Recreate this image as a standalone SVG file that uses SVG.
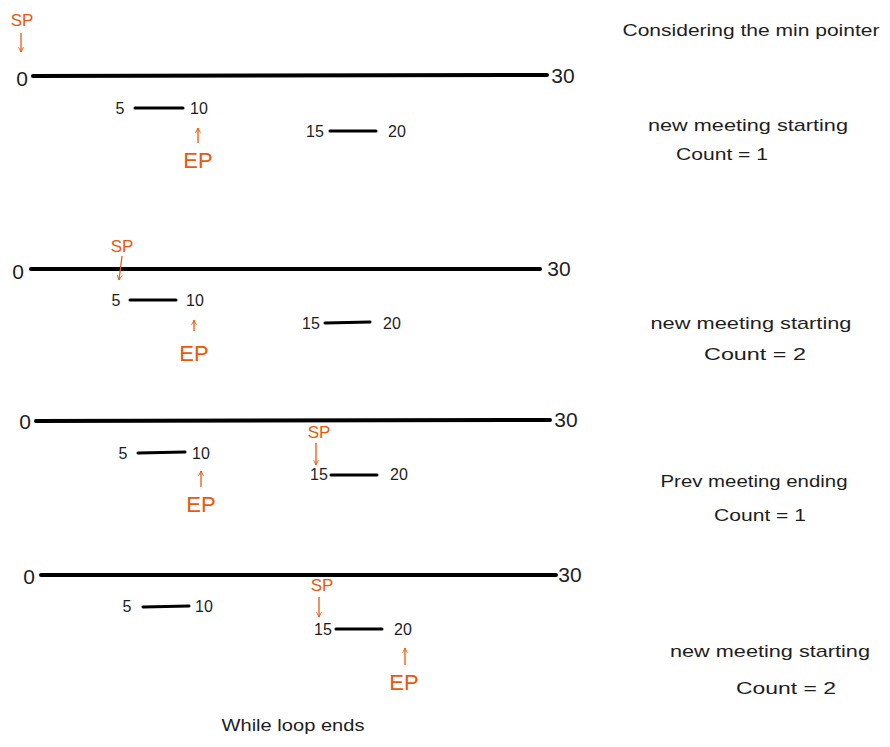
<svg xmlns="http://www.w3.org/2000/svg" width="890" height="747" viewBox="0 0 890 747">
<defs>
<style>
text{font-family:"Liberation Sans","DejaVu Sans",sans-serif;fill:#1e1e1e;dominant-baseline:central}
.n{font-size:16px}
.big{font-size:21px}
.r{fill:#e8590c;font-size:17px}
.re{fill:#e8590c;font-size:22px}
.t{font-size:17px}
.axis{stroke:#000;stroke-width:4;stroke-linecap:round}
.seg{stroke:#000;stroke-width:3;stroke-linecap:round}
.arr{stroke:#e8590c;stroke-width:1.3;fill:none;marker-end:url(#ah)}
</style>
<marker id="ah" viewBox="0 0 10 10" refX="9" refY="5" markerWidth="6" markerHeight="6" orient="auto-start-reverse" markerUnits="userSpaceOnUse">
<path d="M1,1 L9,5 L1,9" fill="none" stroke="#e8590c" stroke-width="1.5"/>
</marker>
</defs>
<rect width="890" height="747" fill="#fff"/>

<g id="panel1">
<text class="r" x="22" y="20" text-anchor="middle">SP</text>
<text class="big" x="22" y="78" text-anchor="middle">0</text>
<line class="axis" x1="33" y1="76" x2="547" y2="75"/>
<text class="big" x="563" y="75" text-anchor="middle">30</text>
<text class="n" x="120" y="108" text-anchor="middle">5</text>
<line class="seg" x1="135" y1="108" x2="183" y2="108"/>
<text class="n" x="199" y="108" text-anchor="middle">10</text>
<text class="re" x="198" y="160" text-anchor="middle">EP</text>
<text class="n" x="315" y="131" text-anchor="middle">15</text>
<line class="seg" x1="330" y1="131" x2="376" y2="131"/>
<text class="n" x="397" y="131" text-anchor="middle">20</text>
<text class="t" x="751" y="30" text-anchor="middle" textLength="257" lengthAdjust="spacingAndGlyphs">Considering the min pointer</text>
<text class="t" x="748" y="125" text-anchor="middle" textLength="200" lengthAdjust="spacingAndGlyphs">new meeting starting</text>
<text class="t" x="722" y="154" text-anchor="middle" textLength="92" lengthAdjust="spacingAndGlyphs">Count = 1</text>
</g>

<g id="panel2">
<text class="r" x="122" y="246" text-anchor="middle">SP</text>
<text class="big" x="18" y="271" text-anchor="middle">0</text>
<line class="axis" x1="31" y1="269" x2="540" y2="269"/>
<text class="big" x="559" y="268" text-anchor="middle">30</text>
<text class="n" x="116" y="300" text-anchor="middle">5</text>
<line class="seg" x1="130" y1="300" x2="176" y2="300"/>
<text class="n" x="195" y="300" text-anchor="middle">10</text>
<text class="re" x="194" y="353" text-anchor="middle">EP</text>
<text class="n" x="311" y="323" text-anchor="middle">15</text>
<line class="seg" x1="325" y1="323" x2="370" y2="322"/>
<text class="n" x="392" y="323" text-anchor="middle">20</text>
<text class="t" x="751" y="323" text-anchor="middle" textLength="201" lengthAdjust="spacingAndGlyphs">new meeting starting</text>
<text class="t" x="755" y="354" text-anchor="middle" textLength="102" lengthAdjust="spacingAndGlyphs">Count = 2</text>
</g>

<g id="panel3">
<text class="big" x="25" y="421" text-anchor="middle">0</text>
<line class="axis" x1="36" y1="421" x2="550" y2="420"/>
<text class="big" x="566" y="419" text-anchor="middle">30</text>
<text class="n" x="123" y="453" text-anchor="middle">5</text>
<line class="seg" x1="138" y1="453" x2="185" y2="452"/>
<text class="n" x="201" y="453" text-anchor="middle">10</text>
<text class="re" x="201" y="504" text-anchor="middle">EP</text>
<text class="r" x="319" y="432" text-anchor="middle">SP</text>
<text class="n" x="319" y="474" text-anchor="middle">15</text>
<line class="seg" x1="331" y1="475" x2="377" y2="475"/>
<text class="n" x="399" y="474" text-anchor="middle">20</text>
<text class="t" x="754" y="481" text-anchor="middle" textLength="187" lengthAdjust="spacingAndGlyphs">Prev meeting ending</text>
<text class="t" x="760" y="515" text-anchor="middle" textLength="92" lengthAdjust="spacingAndGlyphs">Count = 1</text>
</g>

<g id="panel4">
<text class="big" x="29" y="576" text-anchor="middle">0</text>
<line class="axis" x1="41" y1="575" x2="556" y2="575"/>
<text class="big" x="570" y="574" text-anchor="middle">30</text>
<text class="n" x="127" y="606" text-anchor="middle">5</text>
<line class="seg" x1="143" y1="607" x2="189" y2="606"/>
<text class="n" x="204" y="606" text-anchor="middle">10</text>
<text class="r" x="322" y="585" text-anchor="middle">SP</text>
<text class="n" x="323" y="629" text-anchor="middle">15</text>
<line class="seg" x1="336" y1="629" x2="382" y2="629"/>
<text class="n" x="403" y="629" text-anchor="middle">20</text>
<text class="re" x="404" y="682" text-anchor="middle">EP</text>
<text class="t" x="770" y="651" text-anchor="middle" textLength="200" lengthAdjust="spacingAndGlyphs">new meeting starting</text>
<text class="t" x="786" y="688" text-anchor="middle" textLength="100" lengthAdjust="spacingAndGlyphs">Count = 2</text>
<text class="t" x="293" y="725" text-anchor="middle" textLength="143" lengthAdjust="spacingAndGlyphs">While loop ends</text>
</g>

<g id="connectors">
<line class="arr" x1="21" y1="33" x2="21" y2="52"/>
<line class="arr" x1="198" y1="143" x2="198" y2="128"/>
<line class="arr" x1="122" y1="256" x2="119" y2="280"/>
<line class="arr" x1="194" y1="331" x2="194" y2="320"/>
<line class="arr" x1="201" y1="487" x2="201" y2="471"/>
<line class="arr" x1="316" y1="443" x2="316" y2="465"/>
<line class="arr" x1="319" y1="597" x2="319" y2="617"/>
<line class="arr" x1="405" y1="665" x2="405" y2="648"/>
</g>
</svg>
